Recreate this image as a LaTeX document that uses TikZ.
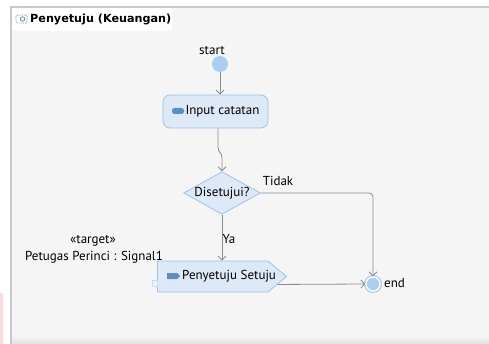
\documentclass[tikz,border=0pt]{standalone}
\usepackage{fontspec}
\setmainfont{PT Sans}
\newfontfamily\titlefont{DejaVu Sans}
\usetikzlibrary{shapes.geometric,shapes.symbols,arrows.meta}
\definecolor{canvas}{HTML}{F5F5F5}
\definecolor{framegray}{HTML}{C8C8C8}
\definecolor{nodefill}{HTML}{DDE9F6}
\definecolor{nodeline}{HTML}{9DC3E6}
\definecolor{startfill}{HTML}{A8CEF2}
\definecolor{iconblue}{HTML}{5B8FC4}
\definecolor{edgegray}{HTML}{8C8C8C}
\definecolor{pinkish}{HTML}{FFD9DC}

\begin{document}
\begin{tikzpicture}
  [x=1pt,y=-1pt,font=\fontsize{13}{15}\selectfont,
   flow/.style={draw=edgegray,line width=0.8pt,-{Straight Barb[length=4pt,width=8pt]}},
   action/.style={rectangle,rounded corners=7pt,draw=nodeline,fill=nodefill,line width=0.8pt,
     minimum width=105pt,minimum height=33pt,inner sep=0pt},
   decision/.style={diamond,aspect=1.8,draw=nodeline,fill=nodefill,line width=0.8pt,
     minimum width=72pt,minimum height=40pt,inner sep=0pt},
   sendsig/.style={signal,signal to=east,signal pointer angle=80,draw=nodeline,fill=nodefill,
     line width=0.8pt,minimum width=129pt,minimum height=31pt,inner sep=0pt},
   initial/.style={circle,fill=startfill,minimum size=16pt,inner sep=0pt},
   final/.style={circle,draw=startfill,line width=1.3pt,double=white,double distance=1.4pt,
     fill=startfill,minimum size=14pt,inner sep=0pt},
   lbl/.style={inner sep=0pt}]

  % canvas
  \useasboundingbox (0,0) rectangle (489,344);
  \fill[white] (0,0) rectangle (489,344);
  \fill[pinkish] (0,293) rectangle (3,344);
  \fill[canvas] (11,7) rectangle (489,344);
  \shade[top color=canvas,bottom color=black!12] (12,336) rectangle (489,344);
  \draw[framegray,line width=1.2pt] (11,344) -- (11,7) -- (489,7);
  \fill[white] (12,8) rectangle (172,31);
  \draw[iconblue,densely dotted,line width=0.8pt,rounded corners=1.5pt] (16,15) rectangle (27,23);
  \draw[iconblue,line width=0.8pt] (22.5,19) circle (2.2pt);
  \node[lbl,anchor=west,font=\titlefont\fontsize{11.2}{13}\selectfont\bfseries] (title) at (30,19) {Penyetuju (Keuangan)};

  % nodes
  \node[initial] (start) at (220,64) {};
  \node[lbl] (startlbl) at (212,51) {start};
  \node[action] (input) at (215.5,111.5) {\hspace{14pt}Input catatan};
  \node[decision] (cek) at (222,193) {Disetujui?};
  \node[sendsig,anchor=west] (setuju) at (157,276.5) {};
  \node[lbl,anchor=west] (setujulbl) at (182,276.5) {Penyetuju Setuju};
  \node[final] (end) at (373,284) {};
  \node[lbl,anchor=west] (endlbl) at (384,283) {end};
  \node[lbl] (stereo) at (93,241) {«target»};
  \node[lbl] (target) at (94,257) {Petugas Perinci : Signal1};

  % icons
  \fill[iconblue,rounded corners=2.5pt] (172,108) rectangle (184,114);
  \fill[iconblue] (167,273) -- (177,273) -- (180,276) -- (177,279) -- (167,279) -- cycle;
  \filldraw[fill=nodefill!60,draw=nodeline!60] (152,280) rectangle (157,286);

  % edges
  \draw[flow] (start) -- (start |- input.north);
  \draw[flow] (input.south -| 218,0) -- (218,147) .. controls (218,153) and (222,152) .. (222,158) -- (cek.north);
  \draw[flow,rounded corners=4pt] (cek.east) -- (end.north |- cek.east) -- (end.north);
  \node[lbl] (tidak) at (278,181) {Tidak};
  \draw[flow] (cek.south) -- (cek.south |- setuju.north);
  \node[lbl] (ya) at (229,239) {Ya};
  \draw[flow] (setuju.-7) -- (end.west);
\end{tikzpicture}
\end{document}
